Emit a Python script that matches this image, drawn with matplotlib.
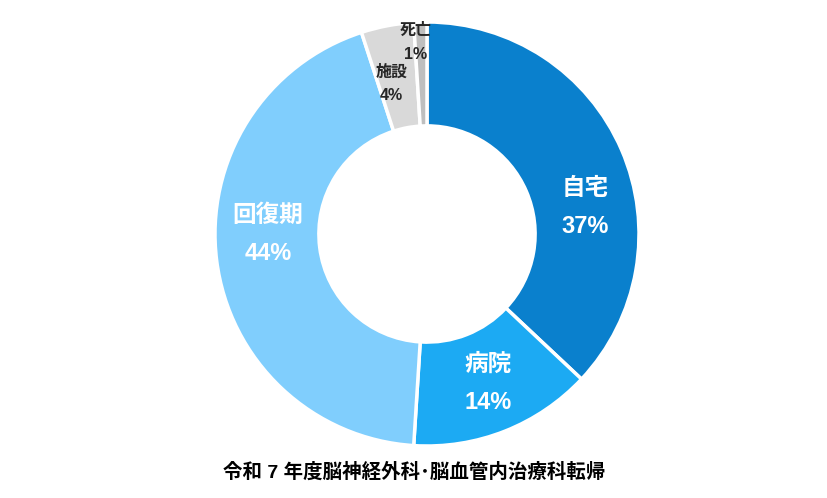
import numpy as np
import matplotlib
matplotlib.use("Agg")
import matplotlib.pyplot as plt

# data
categories = ["自宅", "病院", "回復期", "施設", "死亡"]
values = [37, 14, 44, 4, 1]
pct_labels = ["37%", "14%", "44%", "4%", "1%"]
colors = ["#0A80CD", "#1CAAF3", "#80CEFD", "#D9D9D9", "#BFBFBF"]
title = "令和 7 年度脳神経外科･脳血管内治療科転帰"

fonts = ["Liberation Sans", "Noto Sans CJK JP", "DejaVu Sans"]
plt.rcParams["font.family"] = fonts

fig = plt.figure(figsize=(8.27, 4.98), dpi=100)
# donut centred at (427, 234) px, radius 212 px
cx, cy, r = 427, 234, 212
ax = fig.add_axes([(cx - r) / 827, (498 - cy - r) / 498, 2 * r / 827, 2 * r / 498])

wedges, _ = ax.pie(values, colors=colors, startangle=90, counterclock=False,
                   radius=1.0,
                   wedgeprops=dict(width=0.49, edgecolor="white", linewidth=2.5))
ax.set_xlim(-1, 1)
ax.set_ylim(-1, 1)
ax.set_aspect("equal")
ax.axis("off")

# label placement: angle offset from slice middle and radius (in axes radius units)
angle_shift = [-14, 0.7, -7, 2.6, 1.5]
label_r = [0.755, 0.76, 0.75, 0.73, 0.905]
big = [True, True, True, False, False]

for w, name, pct, da, lr, b in zip(wedges, categories, pct_labels, angle_shift, label_r, big):
    mid = np.deg2rad((w.theta1 + w.theta2) / 2 + da)
    x, y = lr * np.cos(mid), lr * np.sin(mid)
    if b:
        ax.text(x, y + 0.09, name, ha="center", va="center", color="white",
                fontsize=17, fontweight="bold", family=fonts)
        ax.text(x, y - 0.09, pct, ha="center", va="center", color="white",
                fontsize=17, fontweight="bold", family=fonts)
    else:
        ax.text(x, y + 0.055, name, ha="center", va="center", color="#262626",
                fontsize=11.5, fontweight="bold", family=fonts)
        ax.text(x, y - 0.055, pct, ha="center", va="center", color="#262626",
                fontsize=11.5, fontweight="bold", family=fonts)

fig.text(414 / 827, 1 - 472 / 498, title, ha="center", va="center",
         fontsize=14, fontweight="bold", color="#000000", family=fonts)

fig.savefig("out.png", dpi=100, facecolor="white")
